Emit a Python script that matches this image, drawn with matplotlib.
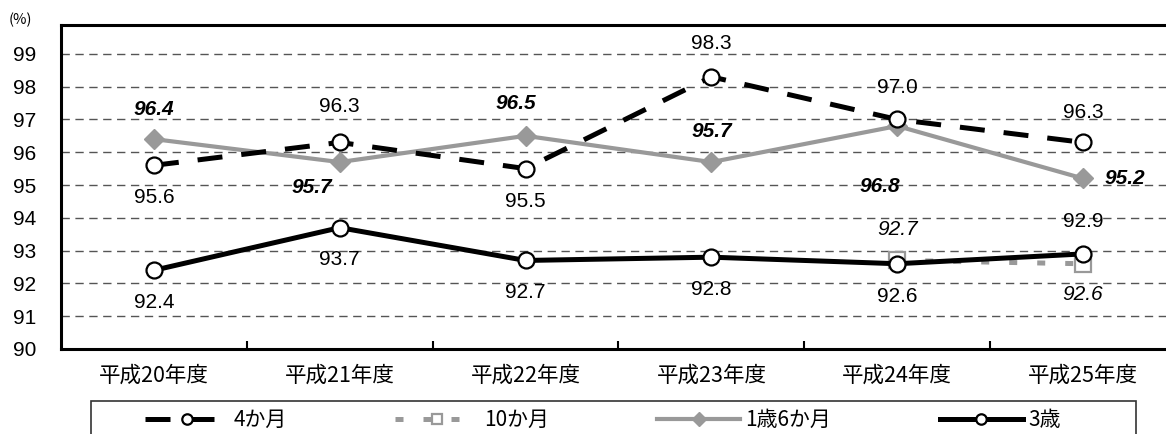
import matplotlib
matplotlib.use("Agg")
import matplotlib.pyplot as plt
from matplotlib.patches import Rectangle

plt.rcParams['font.family'] = ['Liberation Sans', 'Noto Sans CJK JP', 'DejaVu Sans']
cjk = ['Noto Sans CJK JP', 'DejaVu Sans']

years = ['平成20年度', '平成21年度', '平成22年度', '平成23年度', '平成24年度', '平成25年度']
m4 = [95.6, 96.3, 95.5, 98.3, 97.0, 96.3]
m10 = [92.7, 92.6]          # 平成24年度から
y1m6 = [96.4, 95.7, 96.5, 95.7, 96.8, 95.2]
y3 = [92.4, 93.7, 92.7, 92.8, 92.6, 92.9]
series_names = ['4か月', '10か月', '1歳6か月', '3歳']

W, H = 1166, 434
fig = plt.figure(figsize=(W / 100, H / 100), dpi=100)
ax = fig.add_axes([61 / W, 1 - 349 / H, (1176 - 61) / W, (349 - 25) / H])

x = list(range(len(years)))
x10 = x[4:]

gray = '#999999'
l_m4, = ax.plot(x, m4, color='black', lw=3.6, marker='o', ms=11.5,
                mfc='white', mec='black', mew=1.6, zorder=4)
l_m4.set_dashes([5.0, 3.8])
l_m10, = ax.plot(x10, m10, color=gray, lw=3.6, marker='s', ms=11,
                 mfc='white', mec=gray, mew=1.6, zorder=3)
l_m10.set_dashes([1.6, 4.0])
l_y1, = ax.plot(x, y1m6, color=gray, lw=3.0, marker='D', ms=10,
                mfc=gray, mec=gray, zorder=3)
l_y3, = ax.plot(x, y3, color='black', lw=3.6, marker='o', ms=11.5,
                mfc='white', mec='black', mew=1.6, zorder=5)

ax.set_xlim(-0.5, 5.5)
ax.set_ylim(90, 99.88)
ax.set_yticks(range(90, 100))
ax.set_xticks(x)
ax.set_xticklabels(years, family=cjk, fontsize=15.5)
ax.set_xticks([i + 0.5 for i in x[:-1]], minor=True)
ax.tick_params(axis='x', which='major', length=0, pad=11)
ax.tick_params(axis='x', which='minor', direction='in', length=6, width=1.5)
ax.tick_params(axis='y', length=0, pad=18, labelsize=15)

for v in range(91, 100):
    ax.axhline(v, color='#555555', lw=1.0, dashes=(6, 4), zorder=1)

for s in ax.spines.values():
    s.set_linewidth(2.2)
ax.spines['right'].set_visible(False)

fig.text(9 / W, 1 - 20 / H, '(%)', fontsize=10.5, va='center', ha='left',
         family=cjk)


def label(xv, yv, txt, dx, dy, **kw):
    ax.annotate(txt, (xv, yv), xytext=(dx, -dy), textcoords='offset pixels',
                ha='center', va='center', fontsize=15, zorder=6, **kw)


# 4か月
m4_off = [(0, 32), (0, -36), (0, 33), (0, -33), (0, -32), (0, -30)]
for xi, v, (dx, dy) in zip(x, m4, m4_off):
    label(xi, v, f'{v:.1f}', dx, dy)

# 1歳6か月
y1_off = [(0, -30), (-28, 25), (-10, -32), (0, -31), (-17, 60), (42, 0)]
for xi, v, (dx, dy) in zip(x, y1m6, y1_off):
    label(xi, v, f'{v:.1f}', dx, dy, fontweight='bold', fontstyle='italic')

# 3歳
y3_off = [(0, 32), (0, 32), (0, 32), (0, 32), (0, 33), (0, -32)]
for xi, v, (dx, dy) in zip(x, y3, y3_off):
    label(xi, v, f'{v:.1f}', dx, dy)

# 10か月
m10_off = [(0, -31), (0, 31)]
for xi, v, (dx, dy) in zip(x10, m10, m10_off):
    label(xi, v, f'{v:.1f}', dx, dy, fontstyle='italic')

fig.patches.append(Rectangle((91 / W, -0.1), (1136 - 91) / W, 0.1 + 1 - 401 / H,
                             transform=fig.transFigure, fill=False,
                             edgecolor='#333333', lw=1.2))
leg = fig.legend([l_m4, l_m10, l_y1, l_y3], series_names, ncol=4, frameon=False,
                 loc='center left', bbox_to_anchor=(145 / W, 1 - 420 / H),
                 borderpad=0, borderaxespad=0, handlelength=4.0,
                 handletextpad=0.25, columnspacing=5.2,
                 prop={'family': cjk, 'size': 15})
for h in leg.legend_handles:
    h.set_markersize(7.5)

fig.savefig('out.png', dpi=100)
